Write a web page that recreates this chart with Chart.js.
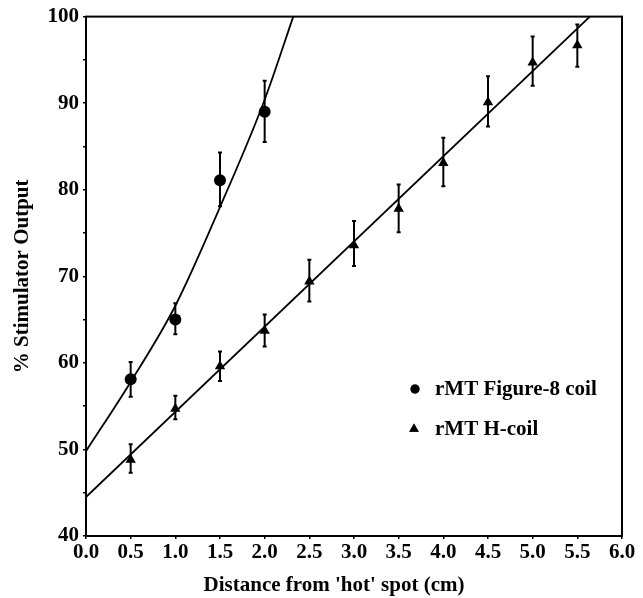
<!DOCTYPE html>
<html>
<head>
<meta charset="utf-8">
<script src="https://cdn.jsdelivr.net/npm/chart.js@4/dist/chart.umd.min.js"></script>
<style>
html,body{margin:0;padding:0;background:#fff;}
#wrap{width:643px;height:598px;position:relative;}
</style>
</head>
<body>
<div id="wrap"><canvas id="c" width="643" height="598"></canvas></div>
<script>
// ---- data ----
const xTitle = "Distance from 'hot' spot (cm)";
const yTitle = "% Stimulator Output";
const fig8Label = "rMT Figure-8 coil";
const hLabel = "rMT H-coil";

const fig8X  = [0.5, 1.0, 1.5, 2.0];
const fig8Y  = [58.1, 65.0, 81.1, 89.0];
const fig8Hi = [60.1, 66.9, 84.3, 92.6];
const fig8Lo = [56.1, 63.3, 78.1, 85.5];

const hX  = [0.5, 1.0, 1.5, 2.0, 2.5, 3.0, 3.5, 4.0, 4.5, 5.0, 5.5];
const hY  = [48.8, 54.7, 59.6, 63.7, 69.4, 73.6, 77.8, 83.1, 90.1, 94.7, 96.7];
const hHi = [50.6, 56.2, 61.3, 65.6, 71.9, 76.4, 80.6, 86.0, 93.1, 97.7, 99.1];
const hLo = [47.3, 53.5, 57.9, 61.9, 67.1, 71.2, 75.1, 80.4, 87.3, 92.0, 94.2];

// fitted curves
const fig8FitX = [0, 0.5, 1.0, 1.5, 2.0, 2.32];
const fig8FitY = [49.8, 57.8, 66.6, 78.0, 90.4, 100];
const hFitX = [0, 5.64];
const hFitY = [44.5, 100];

const xMin = 0, xMax = 6, xStep = 0.5;
const yMin = 40, yMax = 100, yStep = 5, yLabelEvery = 10;

const pts = (xs, ys) => xs.map((x, i) => ({x: x, y: ys[i]}));
const FONT = '"Liberation Serif", "Times New Roman", serif';

const errorBars = {
  id: 'errorBars',
  afterDatasetsDraw(chart) {
    const ctx = chart.ctx, xs = chart.scales.x, ys = chart.scales.y;
    ctx.save();
    ctx.strokeStyle = '#000';
    ctx.lineWidth = 2;
    const draw = (X, LO, HI) => {
      X.forEach((x, i) => {
        const px = xs.getPixelForValue(x);
        const pl = ys.getPixelForValue(LO[i]);
        const ph = ys.getPixelForValue(HI[i]);
        ctx.beginPath();
        ctx.moveTo(px, pl); ctx.lineTo(px, ph);
        ctx.moveTo(px - 2, pl); ctx.lineTo(px + 2, pl);
        ctx.moveTo(px - 2, ph); ctx.lineTo(px + 2, ph);
        ctx.stroke();
      });
    };
    draw(fig8X, fig8Lo, fig8Hi);
    draw(hX, hLo, hHi);
    ctx.restore();
  }
};

const decor = {
  id: 'decor',
  afterDraw(chart) {
    const ctx = chart.ctx, a = chart.chartArea;
    ctx.save();
    // frame
    ctx.strokeStyle = '#000';
    ctx.lineWidth = 2;
    ctx.strokeRect(a.left, a.top, a.right - a.left, a.bottom - a.top);
    // axis titles
    ctx.fillStyle = '#000';
    ctx.font = 'bold 21px ' + FONT;
    ctx.textAlign = 'center';
    ctx.textBaseline = 'alphabetic';
    ctx.fillText(xTitle, 334, 591);
    ctx.save();
    ctx.translate(28, (a.top + a.bottom) / 2);
    ctx.rotate(-Math.PI / 2);
    ctx.textBaseline = 'alphabetic';
    ctx.fillText(yTitle, 0, 0);
    ctx.restore();
    // legend
    ctx.textAlign = 'left';
    ctx.textBaseline = 'middle';
    Chart.helpers.drawPoint(ctx, {pointStyle: 'circle', radius: 4.5, rotation: 0}, 415, 389);
    ctx.fill();
    ctx.fillText(fig8Label, 435, 390);
    Chart.helpers.drawPoint(ctx, {pointStyle: 'triangle', radius: 5.5, rotation: 0}, 414, 429);
    ctx.fill();
    ctx.fillText(hLabel, 435, 430);
    ctx.restore();
  }
};

new Chart(document.getElementById('c'), {
  type: 'scatter',
  data: {
    datasets: [
      {
        label: fig8Label,
        data: pts(fig8X, fig8Y),
        pointStyle: 'circle', pointRadius: 6,
        backgroundColor: '#000', borderColor: '#000', borderWidth: 0,
        showLine: false
      },
      {
        label: hLabel,
        data: pts(hX, hY),
        pointStyle: 'triangle', pointRadius: 6,
        backgroundColor: '#000', borderColor: '#000', borderWidth: 0,
        showLine: false
      },
      {
        label: 'fig8 fit',
        data: pts(fig8FitX, fig8FitY),
        showLine: true, pointRadius: 0, borderColor: '#000', borderWidth: 1.8,
        cubicInterpolationMode: 'monotone', fill: false
      },
      {
        label: 'H fit',
        data: pts(hFitX, hFitY),
        showLine: true, pointRadius: 0, borderColor: '#000', borderWidth: 1.8,
        fill: false
      }
    ]
  },
  options: {
    responsive: false,
    animation: false,
    events: [],
    layout: { padding: { left: 0, top: 16, right: 21, bottom: 0 } },
    plugins: { legend: { display: false }, tooltip: { enabled: false } },
    scales: {
      x: {
        type: 'linear', min: xMin, max: xMax,
        afterFit(s) { s.height = 62; },
        border: { display: false },
        grid: { drawOnChartArea: false, drawTicks: true, tickLength: 3, color: '#000', lineWidth: 1.5 },
        ticks: {
          stepSize: xStep, color: '#000', padding: 1, maxRotation: 0, autoSkip: false,
          font: { family: FONT, size: 21, weight: 'bold' },
          callback: v => Number(v).toFixed(1)
        }
      },
      y: {
        type: 'linear', min: yMin, max: yMax,
        afterFit(s) { s.width = 86; },
        border: { display: false },
        grid: { drawOnChartArea: false, drawTicks: true, tickLength: 3, color: '#000', lineWidth: 1.5 },
        ticks: {
          stepSize: yStep, color: '#000', padding: 4, autoSkip: false,
          font: { family: FONT, size: 21, weight: 'bold' },
          callback: v => (Math.round(v) % yLabelEvery === 0 ? String(Math.round(v)) : '')
        }
      }
    }
  },
  plugins: [errorBars, decor]
});
</script>
</body>
</html>
